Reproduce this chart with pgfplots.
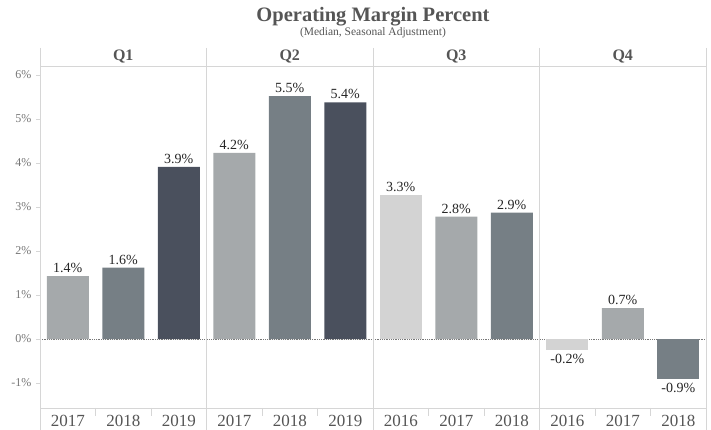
\documentclass[border=0pt]{standalone}
\usepackage{pgfplots}
\pgfplotsset{compat=1.18}
\usepackage{fontspec}
\setmainfont{Liberation Serif}
\definecolor{c16}{HTML}{D3D3D3}
\definecolor{c17}{HTML}{A5A9AB}
\definecolor{c18}{HTML}{767F85}
\definecolor{c19}{HTML}{4A505D}
\definecolor{txt}{HTML}{555555}
\definecolor{tick}{HTML}{777777}
\definecolor{rule}{HTML}{D6D6D6}
\begin{document}
\begin{tikzpicture}
\useasboundingbox (-40pt,-22pt) rectangle (671pt,408pt);
\begin{axis}[
  scale only axis,
  width=666pt, height=342pt,
  xmin=-0.5, xmax=11.5,
  ymin=-1.568, ymax=6.205,
  axis line style={draw=none},
  clip=false,
  xtick={0,...,11},
  xticklabels={2017,2018,2019,2017,2018,2019,2016,2017,2018,2016,2017,2018},
  xtick style={draw=none},
  xticklabel style={font=\fontsize{17}{17}\selectfont, text=txt, yshift=0pt},
  ytick={-1,0,...,6},
  yticklabels={-1\%,0\%,1\%,2\%,3\%,4\%,5\%,6\%},
  ytick pos=left,
  tick align=outside,
  major tick length=4pt,
  ytick style={draw=rule, line width=0.8pt},
  yticklabel style={font=\fontsize{12}{12}\selectfont, text=tick, xshift=-1pt},
  ybar, bar width=42pt, bar shift=0pt,
  point meta=explicit symbolic,
  nodes near coords={\pgfplotspointmeta},
  nodes near coords style={font=\fontsize{14}{14}\selectfont, text=black!85, inner sep=3pt},
]
\draw[densely dotted, tick, line width=0.8pt] (axis cs:-0.5,0) -- (axis cs:11.5,0);
\addplot[fill=c16, draw=none] coordinates {(6,3.28)[3.3\%]};
\addplot[fill=c16, draw=none, nodes near coords style={anchor=north, inner sep=4pt}] coordinates {(9,-0.24)[-0.2\%]};
\addplot[fill=c17, draw=none] coordinates {(0,1.43)[1.4\%] (3,4.23)[4.2\%] (7,2.78)[2.8\%] (10,0.70)[0.7\%]};
\addplot[fill=c18, draw=none] coordinates {(1,1.62)[1.6\%] (4,5.52)[5.5\%] (8,2.87)[2.9\%]};
\addplot[fill=c18, draw=none, nodes near coords style={anchor=north, inner sep=4pt}] coordinates {(11,-0.91)[-0.9\%]};
\addplot[fill=c19, draw=none] coordinates {(2,3.91)[3.9\%] (5,5.38)[5.4\%]};
\end{axis}
% frame lines
\begin{scope}[draw=rule, line width=0.8pt]
\draw (0pt,360pt) -- (0pt,-22pt);
\draw (166.5pt,360pt) -- (166.5pt,-22pt);
\draw (333pt,360pt) -- (333pt,-22pt);
\draw (499.5pt,360pt) -- (499.5pt,-22pt);
\draw (666pt,360pt) -- (666pt,-22pt);
\draw (0pt,342pt) -- (666pt,342pt);
\draw (0pt,0pt) -- (666pt,0pt);
\foreach \i in {0,...,11} {
  \draw[line width=0.6pt] ({(\i+1)*55.5pt},0pt) -- ({(\i+1)*55.5pt},-8pt);
}
\end{scope}
\foreach \q/\x in {Q1/83.25,Q2/249.75,Q3/416.25,Q4/582.75} {
  \node[font=\bfseries\fontsize{16}{16}\selectfont, text=txt] at (\x pt,351pt) {\q};
}
\node[font=\bfseries\fontsize{20.5}{20.5}\selectfont, text=txt] at (333pt,391pt) {Operating Margin Percent};
\node[font=\fontsize{11.5}{11.5}\selectfont, text=txt] at (333pt,375pt) {(Median, Seasonal Adjustment)};
\end{tikzpicture}
\end{document}
